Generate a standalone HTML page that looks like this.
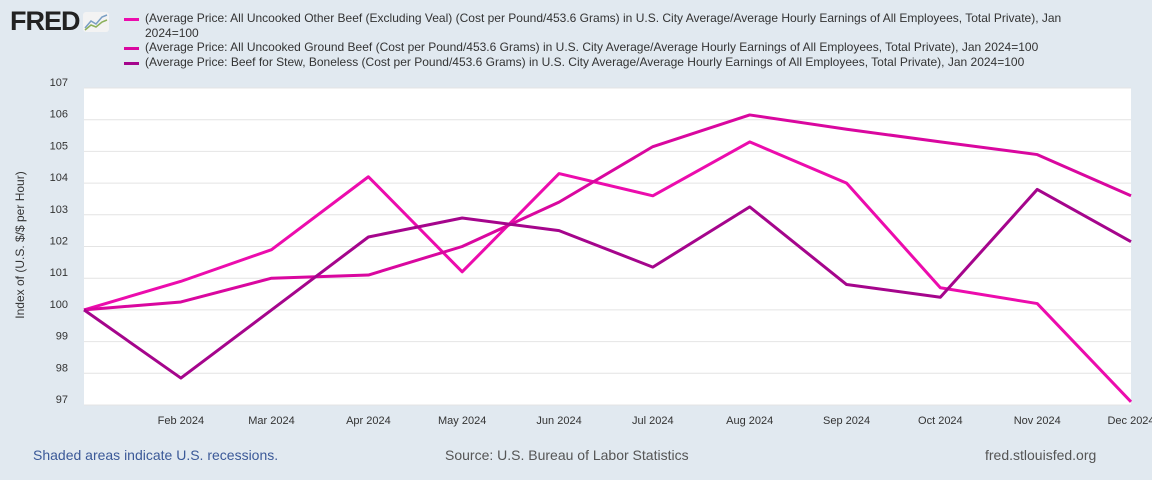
<!DOCTYPE html>
<html><head><meta charset="utf-8"><style>
body{margin:0;width:1152px;height:480px;background:#e1e9f0;font-family:"Liberation Sans",sans-serif;overflow:hidden;position:relative}
.lg{position:absolute;left:145px;font-size:12px;color:#333;line-height:15px}
.sw{position:absolute;left:124px;width:15px;height:3px}
</style></head><body>
<div style="position:absolute;left:10px;top:6px;font:900 27px 'Liberation Sans',sans-serif;color:#222;letter-spacing:-1px">FRED<svg width="26" height="20" style="margin-left:3px;vertical-align:-2px;background:#f3f3f3;border-radius:3px"><polyline points="2,16 8,9 13,12 19,5 24,3" fill="none" stroke="#7a9fc4" stroke-width="1.5"/><polyline points="2,18 8,13 13,15 19,10 24,8" fill="none" stroke="#8bb05a" stroke-width="1.5"/></svg></div>
<div class="sw" style="top:18px;background:#ec0cad"></div>
<div class="lg" style="top:11px;width:960px">(Average Price: All Uncooked Other Beef (Excluding Veal) (Cost per Pound/453.6 Grams) in U.S. City Average/Average Hourly Earnings of All Employees, Total Private), Jan 2024=100</div>
<div class="sw" style="top:47px;background:#d9079f"></div>
<div class="lg" style="top:40px;white-space:nowrap">(Average Price: All Uncooked Ground Beef (Cost per Pound/453.6 Grams) in U.S. City Average/Average Hourly Earnings of All Employees, Total Private), Jan 2024=100</div>
<div class="sw" style="top:62px;background:#a5058c"></div>
<div class="lg" style="top:55px;white-space:nowrap">(Average Price: Beef for Stew, Boneless (Cost per Pound/453.6 Grams) in U.S. City Average/Average Hourly Earnings of All Employees, Total Private), Jan 2024=100</div>
<svg id="ch" width="1152" height="480" style="position:absolute;left:0;top:0"></svg>
<div style="position:absolute;left:33px;top:447px;font-size:14px;color:#3b5998">Shaded areas indicate U.S. recessions.</div>
<div style="position:absolute;left:445px;top:447px;font-size:14px;color:#555">Source: U.S. Bureau of Labor Statistics</div>
<div style="position:absolute;left:985px;top:447px;font-size:14px;color:#555">fred.stlouisfed.org</div>
<script>
const months=["Jan 2024","Feb 2024","Mar 2024","Apr 2024","May 2024","Jun 2024","Jul 2024","Aug 2024","Sep 2024","Oct 2024","Nov 2024","Dec 2024"];
const dayOffsets=[0,31,60,91,121,152,182,213,244,274,305,335];
const otherBeef=[100,100.9,101.9,104.2,101.2,104.3,103.6,105.3,104.0,100.7,100.2,97.1];
const groundBeef=[100,100.25,101.0,101.1,102.0,103.4,105.15,106.15,105.7,105.3,104.9,103.6];
const stewBeef=[100,97.85,100.0,102.3,102.9,102.5,101.35,103.25,100.8,100.4,103.8,102.15];
const yTicks=[97,98,99,100,101,102,103,104,105,106,107];
const NS="http://www.w3.org/2000/svg",svg=document.getElementById('ch');
const L=84,R=1131,T=88,B=405;
const x=d=>L+(R-L)*d/335, y=v=>B-(B-T)*(v-97)/10;
function mk(t,a,p){const e=document.createElementNS(NS,t);for(const k in a)e.setAttribute(k,a[k]);(p||svg).appendChild(e);return e;}
const bg=mk('rect',{x:L,y:T,width:R-L,height:B-T,fill:'#fff'});


yTicks.forEach(v=>{
 const g=mk('line',{x1:L,x2:R,y1:y(v),y2:y(v),stroke:'#e4e4e4','stroke-width':1});
 
 
 const t=mk('text',{x:68,y:y(v)-2,'text-anchor':'end','font-size':11,fill:'#333','font-family':'Liberation Sans'});
 t.textContent=v;
 
 
});
months.forEach((m,i)=>{if(i==0)return;
 const t=mk('text',{x:x(dayOffsets[i]),y:424,'text-anchor':'middle','font-size':11,fill:'#333','font-family':'Liberation Sans'});
 t.textContent=m;
 
 
});
const yt=mk('text',{transform:'translate(24,245) rotate(-90)','text-anchor':'middle','font-size':12,fill:'#333','font-family':'Liberation Sans'});
yt.textContent='Index of (U.S. $/$ per Hour)';


[[otherBeef,'#ec0cad','line-other-beef'],[groundBeef,'#d9079f','line-ground-beef'],[stewBeef,'#a5058c','line-stew-beef']].forEach(([s,c,n])=>{
 const p=mk('polyline',{points:s.map((v,i)=>x(dayOffsets[i])+','+y(v)).join(' '),fill:'none',stroke:c,'stroke-width':3,'stroke-linejoin':'round'});
 
 
});
</script>
</body></html>
